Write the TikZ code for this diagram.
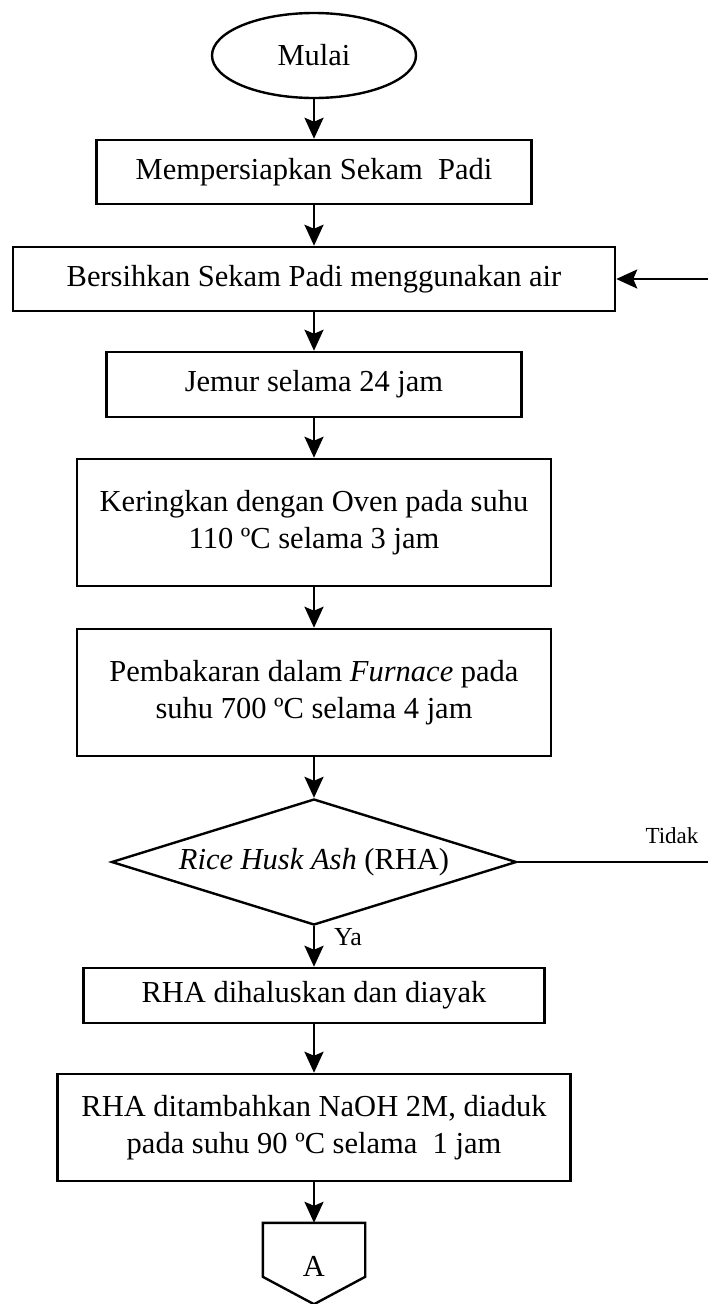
\documentclass[tikz,border=0pt]{standalone}
\usepackage{fontspec}
\setmainfont{Liberation Serif}
\usetikzlibrary{shapes.geometric,arrows.meta,calc}
\begin{document}
\begin{tikzpicture}[x=1pt,y=-1pt,
  txt/.style={font=\fontsize{30.5}{37}\selectfont},
  box/.style={txt, draw, line width=2.5pt, rectangle, inner sep=0pt, align=center},
  arr/.style={line width=2.6pt, -{Stealth[length=21pt,width=19pt,inset=4pt]}},
  plain/.style={line width=2.4pt},
]
\fill[white] (0,0) rectangle (708,1304);
\useasboundingbox (0,0) rectangle (708,1304);

\node[txt, draw, line width=2.4pt, ellipse, minimum width=204pt, minimum height=85pt, inner sep=0pt] (start) at (314,55.5) {Mulai};
\node[box, minimum width=435pt, minimum height=64pt] (b1) at (314,172) {Mempersiapkan Sekam\ \ Padi};
\node[box, minimum width=602pt, minimum height=64pt] (b2) at (314,279) {Bersihkan Sekam Padi menggunakan air};
\node[box, minimum width=415pt, minimum height=65pt] (b3) at (314,384.5) {Jemur selama 24 jam};
\node[box, minimum width=474pt, minimum height=127pt] (b4) at (314,522.5) {Keringkan dengan Oven pada suhu\\110 ºC selama 3 jam};
\node[box, minimum width=474pt, minimum height=127pt] (b5) at (314,692.5) {Pembakaran dalam \textit{Furnace} pada\\suhu 700 ºC selama 4 jam};
\node[txt, draw, line width=2.4pt, diamond, aspect=3.2, minimum width=405pt, minimum height=126pt, inner sep=0pt] (d) at (314,862) {\textit{Rice Husk Ash} (RHA)};
\node[box, minimum width=461pt, minimum height=55pt] (b6) at (314,995.5) {RHA dihaluskan dan diayak};
\node[box, minimum width=513pt, minimum height=107pt] (b7) at (314,1127.5) {RHA ditambahkan NaOH 2M, diaduk\\pada suhu 90 ºC selama\ \ 1 jam};
\node[minimum width=102pt, minimum height=81pt, inner sep=0pt] (A) at (314,1263.5) {};
\node[txt] (Alabel) at (314,1266) {A};
\draw[plain] (A.north west) -- (A.north east) -- ($(A.north east)+(0,54)$) -- (A.south) -- ($(A.north west)+(0,54)$) -- cycle;

\node[font=\fontsize{23}{27}\selectfont] (tidak) at (672,836) {Tidak};
\node[font=\fontsize{26}{30}\selectfont] (ya) at (348,937) {Ya};

\coordinate (r1) at (708,862);
\coordinate (r2) at (708,279);

\draw[arr] (start.south) -- (b1.north);
\draw[arr] (b1.south) -- (b2.north);
\draw[arr] (b2.south) -- (b3.north);
\draw[arr] (b3.south) -- (b4.north);
\draw[arr] (b4.south) -- (b5.north);
\draw[arr] (b5.south) -- (d.north);
\draw[arr] (d.south) -- (b6.north);
\draw[arr] (b6.south) -- (b7.north);
\draw[arr] (b7.south) -- (A.north);
\draw[plain] (d.east) -- (r1);
\draw[arr] (r2) -- (b2.east);
\end{tikzpicture}
\end{document}
